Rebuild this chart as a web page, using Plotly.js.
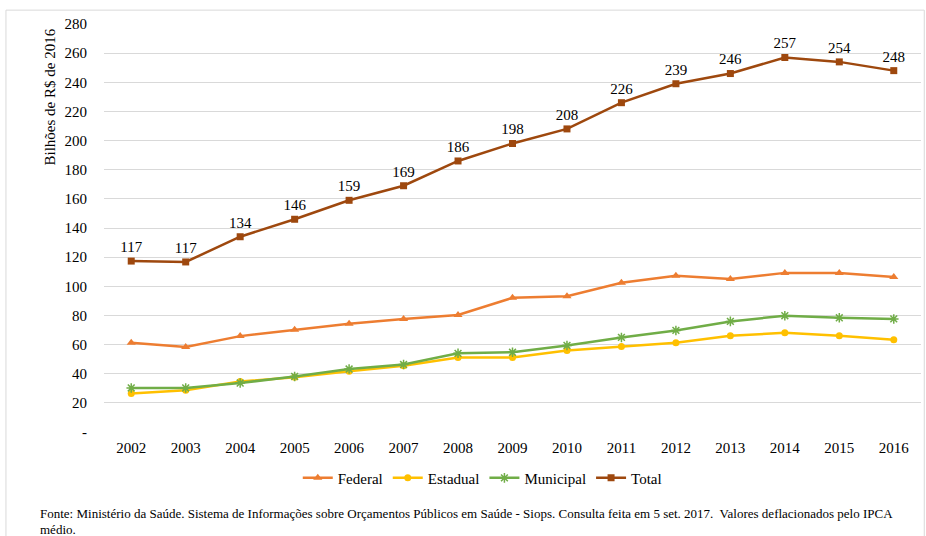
<!DOCTYPE html>
<html>
<head>
<meta charset="utf-8">
<script src="https://cdn.plot.ly/plotly-3.0.1.min.js"></script>
<style>html,body{margin:0;padding:0;background:#fff;}#chart{width:926px;height:536px;}</style>
</head>
<body>
<div id="chart"></div>
<script>
const years = ['2002','2003','2004','2005','2006','2007','2008','2009','2010','2011','2012','2013','2014','2015','2016'];
const federal   = [61.2, 58.4, 65.8, 70.2, 74.3, 77.6, 80.3, 92.1, 93.2, 102.4, 107.2, 105.0, 109.2, 109.2, 106.4];
const estadual  = [26.5, 28.6, 34.6, 37.6, 41.7, 45.5, 51.2, 51.2, 56.0, 58.7, 61.3, 66.0, 68.1, 66.0, 63.3];
const municipal = [30.2, 30.2, 33.6, 38.1, 43.2, 46.3, 54.0, 54.7, 59.4, 64.9, 69.7, 75.9, 79.8, 78.4, 77.6];
const total     = [117.3, 116.7, 134, 146, 159, 169, 186, 198, 208, 226, 239, 246, 257, 254, 248];
const yTickVals = [0,20,40,60,80,100,120,140,160,180,200,220,240,260,280];
const yTickText = ['-','20','40','60','80','100','120','140','160','180','200','220','240','260','280'];
const seriesNames = ['Federal','Estadual','Municipal','Total'];
const footnote1 = 'Fonte: Ministério da Saúde. Sistema de Informações sobre Orçamentos Públicos em Saúde - Siops. Consulta feita em 5 set. 2017.  Valores deflacionados pelo IPCA';
const footnote2 = 'médio.';
const yTitle = 'Bilhões de R$ de 2016';

const font = 'Liberation Serif, Times New Roman, serif';
const traces = [
  {x: years, y: federal, name: seriesNames[0], mode: 'lines+markers', line: {color: '#ED7D31', width: 2.5}, marker: {symbol: 'triangle-up', size: 8, color: '#ED7D31'}},
  {x: years, y: estadual, name: seriesNames[1], mode: 'lines+markers', line: {color: '#FFC000', width: 2.5}, marker: {symbol: 'circle', size: 7, color: '#FFC000'}},
  {x: years, y: municipal, name: seriesNames[2], mode: 'lines+markers', line: {color: '#70AD47', width: 2.5}, marker: {symbol: 'asterisk-open', size: 8, color: '#70AD47', line: {color: '#70AD47', width: 1.5}}},
  {x: years, y: total, name: seriesNames[3], mode: 'lines+markers+text', text: total.map(v => Math.round(v).toString()), textposition: 'top center', textfont: {family: font, size: 15, color: '#000'}, line: {color: '#9E480E', width: 2.5}, marker: {symbol: 'square', size: 7, color: '#9E480E'}}
];

const layout = {
  width: 926, height: 536,
  margin: {l: 104, r: 5, t: 24, b: 104},
  paper_bgcolor: '#fff', plot_bgcolor: '#fff',
  font: {family: font, size: 15, color: '#000'},
  showlegend: true,
  legend: {orientation: 'h', x: 0.463, xanchor: 'center', y: -0.113, yanchor: 'middle', font: {family: font, size: 15}, itemwidth: 30, traceorder: 'normal'},
  xaxis: {type: 'category', showgrid: false, zeroline: false, showline: false, ticks: '', tickfont: {family: font, size: 15}, range: [-0.5, 14.5], fixedrange: true, ticklabelstandoff: 5},
  yaxis: {range: [0, 280], tickvals: yTickVals, ticktext: yTickText, showgrid: true, gridcolor: '#d9d9d9', gridwidth: 1, zeroline: false, showline: false, ticks: '', tickfont: {family: font, size: 15}, ticklabelstandoff: 16},
  annotations: [
    {text: yTitle, xref: 'paper', yref: 'paper', x: -0.066, y: 0.82, xanchor: 'center', yanchor: 'middle', textangle: -90, showarrow: false, font: {family: font, size: 15}},
    {text: footnote1, xref: 'paper', yref: 'paper', x: -0.081, y: -0.199, xanchor: 'left', yanchor: 'middle', showarrow: false, font: {family: font, size: 13}},
    {text: footnote2, xref: 'paper', yref: 'paper', x: -0.081, y: -0.24, xanchor: 'left', yanchor: 'middle', showarrow: false, font: {family: font, size: 13}}
  ],
  shapes: [
    {type: 'rect', xref: 'paper', yref: 'paper', x0: -0.12, x1: 1.004, y0: -0.3, y1: 1.034, line: {color: '#d9d9d9', width: 1}, fillcolor: 'rgba(0,0,0,0)', layer: 'below'}
  ]
};
Plotly.newPlot('chart', traces, layout, {displayModeBar: false, staticPlot: true});
</script>
</body>
</html>
